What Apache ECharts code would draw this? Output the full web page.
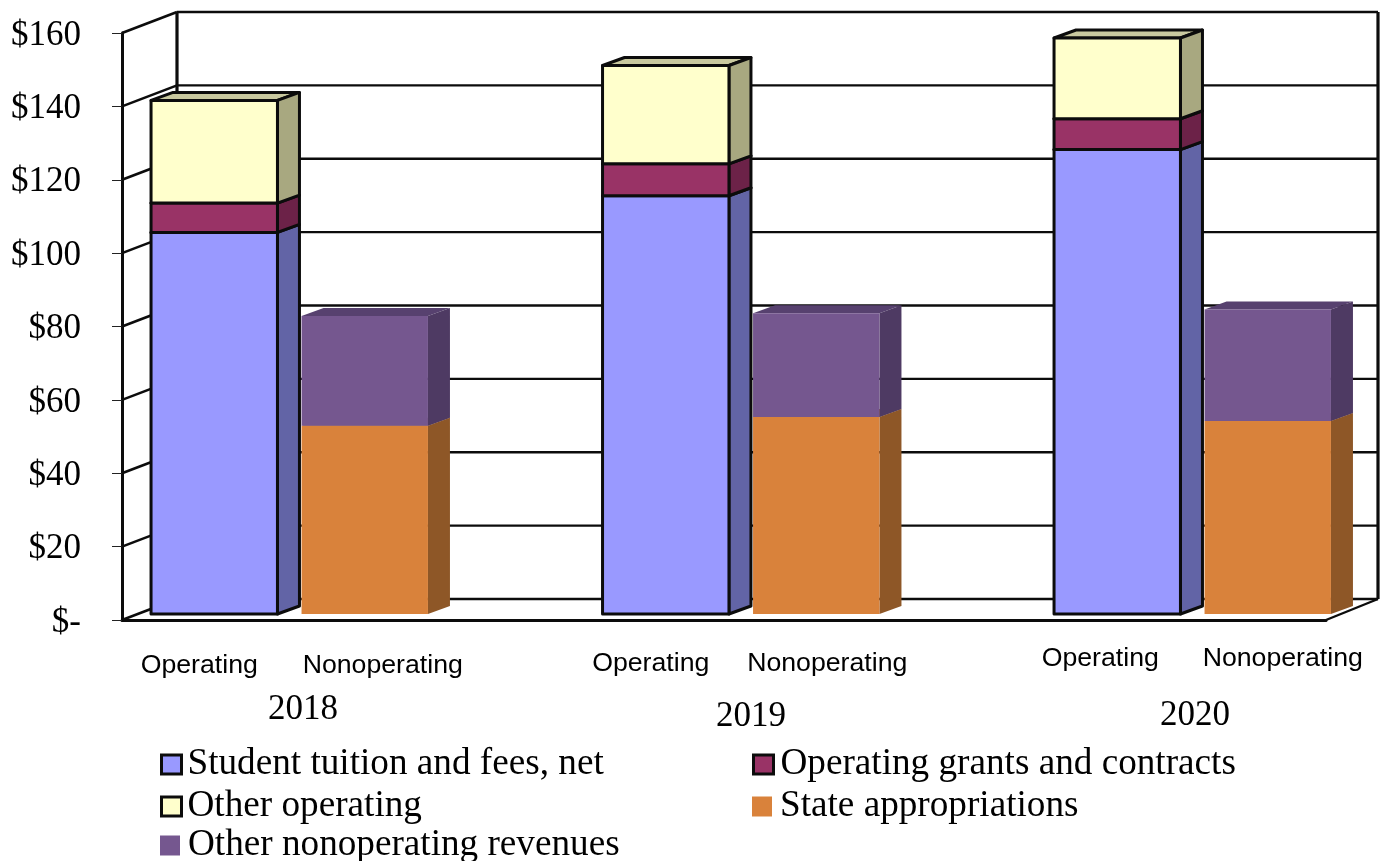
<!DOCTYPE html>
<html>
<head>
<meta charset="utf-8">
<style>html,body{margin:0;padding:0;background:#fff}#c{width:1386px;height:861px}</style>
<script src="https://cdn.jsdelivr.net/npm/echarts@6/dist/echarts.min.js"></script>
</head>
<body>
<div id="c"></div>
<script>
// Data ($ millions)
const years = ['2018', '2019', '2020'];
const slotLabels = ['Operating', 'Nonoperating', '', 'Operating', 'Nonoperating', '', 'Operating', 'Nonoperating'];
const operatingSlots = [0, 3, 6];
const nonoperatingSlots = [1, 4, 7];
const tuition = [104, 114, 126.6];
const grants = [8, 8.7, 8.4];
const otherOperating = [28, 26.8, 22];
const stateAppropriations = [51.3, 53.7, 52.6];
const otherNonoperating = [29.9, 28.3, 30.4];
const yTicks = [0, 20, 40, 60, 80, 100, 120, 140, 160];

const serif = '"Liberation Serif","Times New Roman",serif';
const sans = '"Liberation Sans",Arial,sans-serif';
const BLACK = '#0c0c0c';

// stack segments: [slot, base, top]
function stackRows(slots, values, below) {
  return slots.map((s, i) => {
    const base = below.reduce((a, arr) => a + arr[i], 0);
    return [s, base, base + values[i]];
  });
}

// pseudo-3D box drawn through the axes' scales
const OFF_X = 17, OFF_Y = 6, DEPTH_X = 22, DEPTH_Y = 8;
function boxRenderer(c, bordered) {
  return function (params, api) {
    const p0 = api.coord([api.value(0), api.value(1)]);
    const p1 = api.coord([api.value(0), api.value(2)]);
    const w = api.size([1, 0])[0] * 0.84;
    const x0 = p0[0] + OFF_X - w / 2, x1 = x0 + w;
    const yb = p0[1] - OFF_Y, yt = p1[1] - OFF_Y;
    const st = bordered ? { stroke: BLACK, lineWidth: 3, lineJoin: 'round' } : { stroke: null };
    const poly = (pts, fill) => ({
      type: 'polygon', shape: { points: pts }, style: Object.assign({ fill: fill }, st)
    });
    return {
      type: 'group',
      children: [
        poly([[x0, yt], [x0 + DEPTH_X, yt - DEPTH_Y], [x1 + DEPTH_X, yt - DEPTH_Y], [x1, yt]], c.top),
        poly([[x1, yb], [x1 + DEPTH_X, yb - DEPTH_Y], [x1 + DEPTH_X, yt - DEPTH_Y], [x1, yt]], c.side),
        poly([[x0, yb], [x1, yb], [x1, yt], [x0, yt]], c.front)
      ]
    };
  };
}

// walls and gridlines
const WALL_X = 55, WALL_Y = 21, WALL_X_RIGHT = 52;
function frameRenderer(params, api) {
  const cs = params.coordSys;
  const y = api.coord([0, api.value(0)])[1];
  const xL = cs.x, xR = cs.x + cs.width;
  const ln = (x1, y1, x2, y2, lw) => ({
    type: 'line', shape: { x1, y1, x2, y2 }, style: { stroke: BLACK, lineWidth: lw }
  });
  const kids = [
    ln(xL, y, xL + WALL_X, y - WALL_Y, 2.6),
    ln(xL + WALL_X, y - WALL_Y, xR + WALL_X_RIGHT, y - WALL_Y, 2.4)
  ];
  if (api.value(0) === 0) {
    kids.push(ln(xR, y, xR + WALL_X_RIGHT, y - WALL_Y, 2.4));
    kids.push(ln(xL + WALL_X, y - WALL_Y, xL + WALL_X, cs.y - WALL_Y, 3.2));
    kids.push(ln(xR + WALL_X_RIGHT, y - WALL_Y, xR + WALL_X_RIGHT, cs.y - WALL_Y, 3.2));
  }
  return { type: 'group', children: kids };
}

const palette = {
  tuition: { front: '#9999FF', side: '#6264A6', top: '#7a7ad0' },
  grants: { front: '#993366', side: '#6C2248', top: '#7a2950' },
  other: { front: '#FFFFCC', side: '#A8A880', top: '#C9C99F' },
  state: { front: '#D9823B', side: '#8E5727', top: '#a8642c' },
  otherNon: { front: '#75578F', side: '#4E3A63', top: '#57416F' }
};

function boxSeries(name, c, bordered, rows) {
  return {
    type: 'custom', name: name, coordinateSystem: 'cartesian2d', silent: true,
    renderItem: boxRenderer(c, bordered), data: rows, z: 3,
    encode: { x: 0, y: [1, 2] }, itemStyle: { color: c.front }
  };
}

const N_TUITION = 'Student tuition and fees, net', N_GRANTS = 'Operating grants and contracts',
  N_OTHER = 'Other operating', N_STATE = 'State appropriations', N_NON = 'Other nonoperating revenues';

function legendAt(name, c, left, top, bordered, textPad) {
  return {
    left: left, top: top, orient: 'horizontal', itemWidth: 20, itemHeight: bordered ? 19 : 20,
    selectedMode: false, padding: 0,
    textStyle: { fontFamily: serif, fontSize: 37.2, color: '#000', padding: [0, 0, 0, textPad] },
    data: [{
      name: name, icon: 'rect',
      itemStyle: bordered ? { color: c.front, borderColor: BLACK, borderWidth: 3 } : { color: c.front, borderWidth: 0 }
    }]
  };
}

// x-axis label nudges as [left padding, top padding], layout only
const labelPad = [[4, 8], [70, 8], [0, 0], [4, 6], [56, 6], [0, 0], [0, 1], [64, 1]];
const yearPos = [[303, 708], [751, 715], [1195, 714]];

const option = {
  animation: false,
  backgroundColor: '#fff',
  grid: { left: 122, top: 33, width: 1204, height: 587, containLabel: false },
  xAxis: {
    type: 'category',
    data: slotLabels.map((t, i) => ({
      value: t,
      textStyle: { padding: [labelPad[i][1], 0, 0, labelPad[i][0]] }
    })),
    axisLine: { lineStyle: { color: BLACK, width: 3 } },
    axisTick: { show: false },
    axisLabel: { interval: 0, margin: 24, fontFamily: sans, fontSize: 26.7, color: '#000', hideOverlap: false }
  },
  yAxis: {
    type: 'value', min: 0, max: 160, interval: 20,
    splitLine: { show: false },
    axisLine: { show: true, lineStyle: { color: BLACK, width: 3 } },
    axisTick: { show: true, length: 10, lineStyle: { color: '#222', width: 1 } },
    axisLabel: {
      margin: 41, color: '#000',
      formatter: v => '{t|' + (v === 0 ? '$-' : '$' + v) + '}',
      rich: { t: { fontFamily: serif, fontSize: 35, color: '#000', padding: [5, 0, 0, 0] } }
    }
  },
  legend: [
    legendAt(N_TUITION, palette.tuition, 160, 746, true, 1),
    legendAt(N_GRANTS, palette.grants, 752, 746, true, 2),
    legendAt(N_OTHER, palette.other, 160, 788, true, 1),
    legendAt(N_STATE, palette.state, 752, 788, false, 3),
    legendAt(N_NON, palette.otherNon, 160, 827, false, 3)
  ],
  graphic: years.map((y, i) => ({
    type: 'text', x: yearPos[i][0], y: yearPos[i][1] + 2, silent: true,
    style: { text: y, fontFamily: serif, fontSize: 35, fill: '#000', align: 'center', verticalAlign: 'middle' }
  })),
  series: [
    {
      type: 'custom', coordinateSystem: 'cartesian2d', silent: true, z: 1,
      renderItem: frameRenderer, data: yTicks.map(v => [v]),
      encode: { y: 0 }
    },
    boxSeries(N_TUITION, palette.tuition, true, stackRows(operatingSlots, tuition, [])),
    boxSeries(N_GRANTS, palette.grants, true, stackRows(operatingSlots, grants, [tuition])),
    boxSeries(N_OTHER, palette.other, true, stackRows(operatingSlots, otherOperating, [tuition, grants])),
    boxSeries(N_STATE, palette.state, false, stackRows(nonoperatingSlots, stateAppropriations, [])),
    boxSeries(N_NON, palette.otherNon, false, stackRows(nonoperatingSlots, otherNonoperating, [stateAppropriations]))
  ]
};
echarts.init(document.getElementById('c'), null, { renderer: 'canvas' }).setOption(option);
</script>
</body>
</html>
